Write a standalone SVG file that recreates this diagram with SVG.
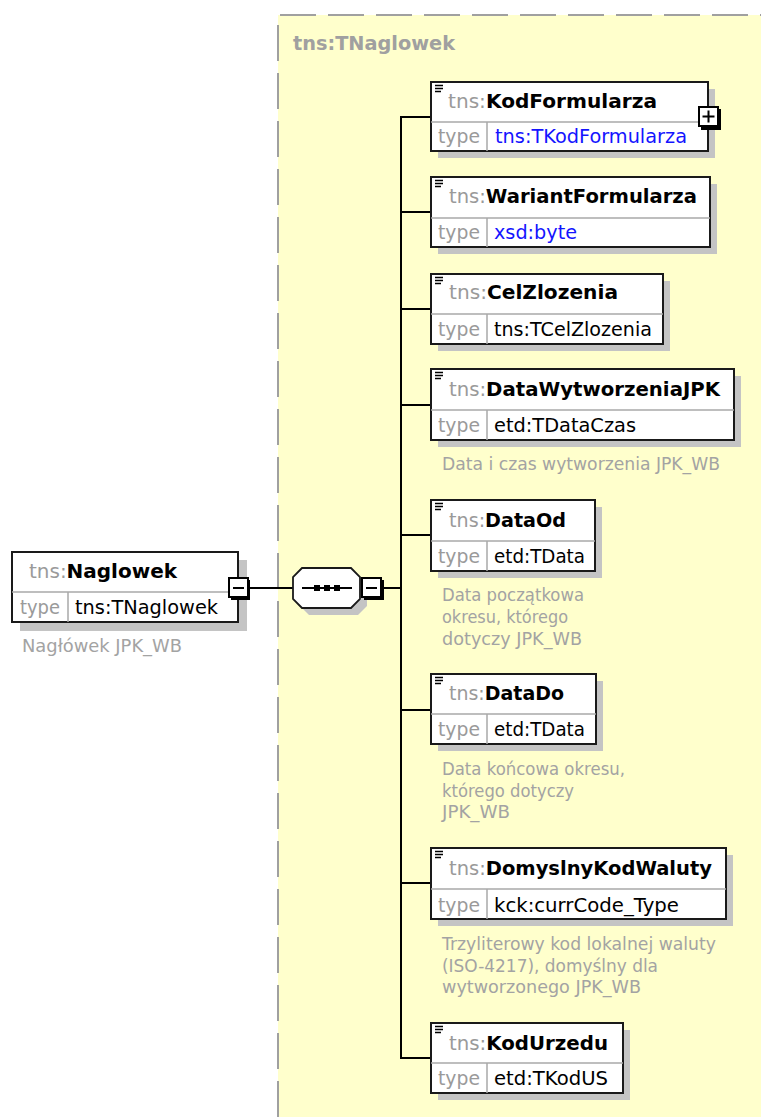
<svg xmlns="http://www.w3.org/2000/svg" width="761" height="1117" viewBox="0 0 761 1117">
<style>
.shadow{fill:#c4c4c4}
.box{fill:#fff;stroke:#1a1a1a;stroke-width:2}
.div{stroke:#a8a8a8;stroke-width:1.5;fill:none}
.t{font-family:"DejaVu Sans","Liberation Sans",sans-serif;font-size:19px}
.pre{fill:#9a9a9a;font-weight:normal}
.nm{fill:#000;font-weight:bold}
.lbl{fill:#9a9a9a}
.val{fill:#000}
.blue{fill:#1414ff}
.ann{font-family:"DejaVu Sans","Liberation Sans",sans-serif;font-size:17px;fill:#a3a3a3}
.ico{stroke:#000;stroke-width:1.3}
.con{stroke:#000;stroke-width:2;fill:none}
.btn{fill:#fff;stroke:#000;stroke-width:2}
</style>
<rect width="761" height="1117" fill="#fff"/>
<g id="type-TNaglowek">
<rect x="278" y="15" width="490" height="1110" fill="#ffffcc"/>
<path d="M278 1117 V15 H761" fill="none" stroke="#a0a0a0" stroke-width="2" stroke-dasharray="36,12"/>
<text x="293" y="50" class="t" font-weight="bold" fill="#a0a0a0" textLength="162" lengthAdjust="spacingAndGlyphs">tns:TNaglowek</text>
</g>
<g id="connectors">
<line class="con" x1="249" y1="588" x2="293" y2="588"/>
<line class="con" x1="383" y1="588" x2="401" y2="588"/>
<line class="con" x1="401" y1="117" x2="401" y2="1058"/>
<line class="con" x1="400" y1="117" x2="431" y2="117"/>
<line class="con" x1="401" y1="212" x2="431" y2="212"/>
<line class="con" x1="401" y1="309" x2="431" y2="309"/>
<line class="con" x1="401" y1="405" x2="431" y2="405"/>
<line class="con" x1="401" y1="535" x2="431" y2="535"/>
<line class="con" x1="401" y1="710" x2="431" y2="710"/>
<line class="con" x1="401" y1="883" x2="431" y2="883"/>
<line class="con" x1="400" y1="1058" x2="431" y2="1058"/>
</g>
<g id="Naglowek">
<rect class="shadow" x="20" y="560" width="227" height="71"/>
<rect class="box" x="12" y="552" width="226" height="70"/>
<line class="div" x1="12" y1="592" x2="238" y2="592"/>
<line class="div" x1="68" y1="592" x2="68" y2="622"/>
<text x="29" y="578" class="t" textLength="148" lengthAdjust="spacingAndGlyphs"><tspan class="pre">tns:</tspan><tspan class="nm">Naglowek</tspan></text>
<text x="20" y="614" class="t lbl" textLength="40" lengthAdjust="spacingAndGlyphs">type</text>
<text x="75" y="614" class="t val" textLength="143" lengthAdjust="spacingAndGlyphs">tns:TNaglowek</text>
<text x="22" y="652" class="ann" textLength="160" lengthAdjust="spacingAndGlyphs">Nagłówek JPK_WB</text>
<rect x="231" y="580" width="19" height="20" fill="#000"/>
<rect class="btn" x="229" y="578" width="19" height="19"/>
<line x1="233" y1="588" x2="244" y2="588" stroke="#000" stroke-width="2"/>
</g>
<g id="sequence">
<polygon class="shadow" points="309,575 358,575 367,584 367,606 358,615 309,615 300,606 300,584"/>
<polygon points="302,568 351,568 360,577 360,599 351,608 302,608 293,599 293,577" fill="#fff" stroke="#1a1a1a" stroke-width="1.8"/>
<line x1="302" y1="588" x2="352" y2="588" stroke="#000" stroke-width="1.8"/>
<rect x="314" y="585" width="6" height="6" fill="#000"/>
<rect x="324" y="585" width="6" height="6" fill="#000"/>
<rect x="334" y="585" width="6" height="6" fill="#000"/>
<rect x="364" y="580" width="20" height="20" fill="#000"/>
<rect class="btn" x="362" y="578" width="19" height="19"/>
<line x1="366" y1="588" x2="377" y2="588" stroke="#000" stroke-width="2"/>
</g>
<g id="KodFormularza">
<rect class="shadow" x="438" y="89" width="277" height="69"/>
<rect class="box" x="431" y="82" width="277" height="69"/>
<line class="div" x1="431" y1="122" x2="708" y2="122"/>
<line class="div" x1="487" y1="122" x2="487" y2="151"/>
<path class="ico" d="M435 85.5h8M435 88.5h8M435 91.5h6"/>
<text x="448" y="108" class="t" textLength="209" lengthAdjust="spacingAndGlyphs"><tspan class="pre">tns:</tspan><tspan class="nm">KodFormularza</tspan></text>
<text x="438" y="143" class="t lbl" textLength="42" lengthAdjust="spacingAndGlyphs">type</text>
<text x="495" y="143" class="t blue" textLength="192" lengthAdjust="spacingAndGlyphs">tns:TKodFormularza</text>
<rect x="701" y="109" width="20" height="21" fill="#000"/>
<rect class="btn" x="699" y="107" width="19" height="19"/>
<path d="M702.5 116.5h12M708.5 110.5v12" stroke="#000" stroke-width="2"/>
</g>
<g id="WariantFormularza">
<rect class="shadow" x="438" y="184" width="279" height="70"/>
<rect class="box" x="431" y="177" width="279" height="70"/>
<line class="div" x1="431" y1="218" x2="710" y2="218"/>
<line class="div" x1="487" y1="218" x2="487" y2="247"/>
<path class="ico" d="M435 180.5h8M435 183.5h8M435 186.5h6"/>
<text x="449" y="203" class="t" textLength="248" lengthAdjust="spacingAndGlyphs"><tspan class="pre">tns:</tspan><tspan class="nm">WariantFormularza</tspan></text>
<text x="438" y="239" class="t lbl" textLength="42" lengthAdjust="spacingAndGlyphs">type</text>
<text x="494" y="239" class="t blue" textLength="83" lengthAdjust="spacingAndGlyphs">xsd:byte</text>
</g>
<g id="CelZlozenia">
<rect class="shadow" x="438" y="281" width="232" height="70"/>
<rect class="box" x="431" y="274" width="232" height="70"/>
<line class="div" x1="431" y1="314" x2="663" y2="314"/>
<line class="div" x1="487" y1="314" x2="487" y2="344"/>
<path class="ico" d="M435 277.5h8M435 280.5h8M435 283.5h6"/>
<text x="449" y="299" class="t" textLength="169" lengthAdjust="spacingAndGlyphs"><tspan class="pre">tns:</tspan><tspan class="nm">CelZlozenia</tspan></text>
<text x="438" y="336" class="t lbl" textLength="42" lengthAdjust="spacingAndGlyphs">type</text>
<text x="494" y="336" class="t val" textLength="158" lengthAdjust="spacingAndGlyphs">tns:TCelZlozenia</text>
</g>
<g id="DataWytworzeniaJPK">
<rect class="shadow" x="438" y="376" width="303" height="71"/>
<rect class="box" x="431" y="369" width="303" height="71"/>
<line class="div" x1="431" y1="410" x2="734" y2="410"/>
<line class="div" x1="487" y1="410" x2="487" y2="440"/>
<path class="ico" d="M435 372.5h8M435 375.5h8M435 378.5h6"/>
<text x="449" y="396" class="t" textLength="271" lengthAdjust="spacingAndGlyphs"><tspan class="pre">tns:</tspan><tspan class="nm">DataWytworzeniaJPK</tspan></text>
<text x="438" y="432" class="t lbl" textLength="42" lengthAdjust="spacingAndGlyphs">type</text>
<text x="494" y="432" class="t val" textLength="142" lengthAdjust="spacingAndGlyphs">etd:TDataCzas</text>
<text x="442" y="470" class="ann" textLength="278" lengthAdjust="spacingAndGlyphs">Data i czas wytworzenia JPK_WB</text>
</g>
<g id="DataOd">
<rect class="shadow" x="438" y="507" width="164" height="71"/>
<rect class="box" x="431" y="500" width="164" height="71"/>
<line class="div" x1="431" y1="541" x2="595" y2="541"/>
<line class="div" x1="487" y1="541" x2="487" y2="571"/>
<path class="ico" d="M435 503.5h8M435 506.5h8M435 509.5h6"/>
<text x="449" y="527" class="t" textLength="117" lengthAdjust="spacingAndGlyphs"><tspan class="pre">tns:</tspan><tspan class="nm">DataOd</tspan></text>
<text x="438" y="563" class="t lbl" textLength="42" lengthAdjust="spacingAndGlyphs">type</text>
<text x="494" y="563" class="t val" textLength="91" lengthAdjust="spacingAndGlyphs">etd:TData</text>
<text x="442" y="601" class="ann" textLength="142" lengthAdjust="spacingAndGlyphs">Data początkowa</text>
<text x="442" y="623" class="ann" textLength="126" lengthAdjust="spacingAndGlyphs">okresu, którego</text>
<text x="442" y="645" class="ann" textLength="140" lengthAdjust="spacingAndGlyphs">dotyczy JPK_WB</text>
</g>
<g id="DataDo">
<rect class="shadow" x="438" y="681" width="165" height="70"/>
<rect class="box" x="431" y="674" width="165" height="70"/>
<line class="div" x1="431" y1="714" x2="596" y2="714"/>
<line class="div" x1="487" y1="714" x2="487" y2="744"/>
<path class="ico" d="M435 677.5h8M435 680.5h8M435 683.5h6"/>
<text x="449" y="700" class="t" textLength="115" lengthAdjust="spacingAndGlyphs"><tspan class="pre">tns:</tspan><tspan class="nm">DataDo</tspan></text>
<text x="438" y="736" class="t lbl" textLength="42" lengthAdjust="spacingAndGlyphs">type</text>
<text x="494" y="736" class="t val" textLength="91" lengthAdjust="spacingAndGlyphs">etd:TData</text>
<text x="442" y="775" class="ann" textLength="183" lengthAdjust="spacingAndGlyphs">Data końcowa okresu,</text>
<text x="442" y="797" class="ann" textLength="132" lengthAdjust="spacingAndGlyphs">którego dotyczy</text>
<text x="442" y="818" class="ann" textLength="68" lengthAdjust="spacingAndGlyphs">JPK_WB</text>
</g>
<g id="DomyslnyKodWaluty">
<rect class="shadow" x="438" y="855" width="295" height="71"/>
<rect class="box" x="431" y="848" width="295" height="71"/>
<line class="div" x1="431" y1="889" x2="726" y2="889"/>
<line class="div" x1="487" y1="889" x2="487" y2="919"/>
<path class="ico" d="M435 851.5h8M435 854.5h8M435 857.5h6"/>
<text x="449" y="875" class="t" textLength="263" lengthAdjust="spacingAndGlyphs"><tspan class="pre">tns:</tspan><tspan class="nm">DomyslnyKodWaluty</tspan></text>
<text x="438" y="912" class="t lbl" textLength="42" lengthAdjust="spacingAndGlyphs">type</text>
<text x="494" y="912" class="t val" textLength="185" lengthAdjust="spacingAndGlyphs">kck:currCode_Type</text>
<text x="442" y="950" class="ann" textLength="274" lengthAdjust="spacingAndGlyphs">Trzyliterowy kod lokalnej waluty</text>
<text x="442" y="972" class="ann" textLength="216" lengthAdjust="spacingAndGlyphs">(ISO-4217), domyślny dla</text>
<text x="442" y="993" class="ann" textLength="199" lengthAdjust="spacingAndGlyphs">wytworzonego JPK_WB</text>
</g>
<g id="KodUrzedu">
<rect class="shadow" x="438" y="1030" width="192" height="70"/>
<rect class="box" x="431" y="1023" width="192" height="70"/>
<line class="div" x1="431" y1="1063" x2="623" y2="1063"/>
<line class="div" x1="487" y1="1063" x2="487" y2="1093"/>
<path class="ico" d="M435 1026.5h8M435 1029.5h8M435 1032.5h6"/>
<text x="449" y="1050" class="t" textLength="159" lengthAdjust="spacingAndGlyphs"><tspan class="pre">tns:</tspan><tspan class="nm">KodUrzedu</tspan></text>
<text x="438" y="1085" class="t lbl" textLength="42" lengthAdjust="spacingAndGlyphs">type</text>
<text x="494" y="1085" class="t val" textLength="114" lengthAdjust="spacingAndGlyphs">etd:TKodUS</text>
</g>
</svg>
